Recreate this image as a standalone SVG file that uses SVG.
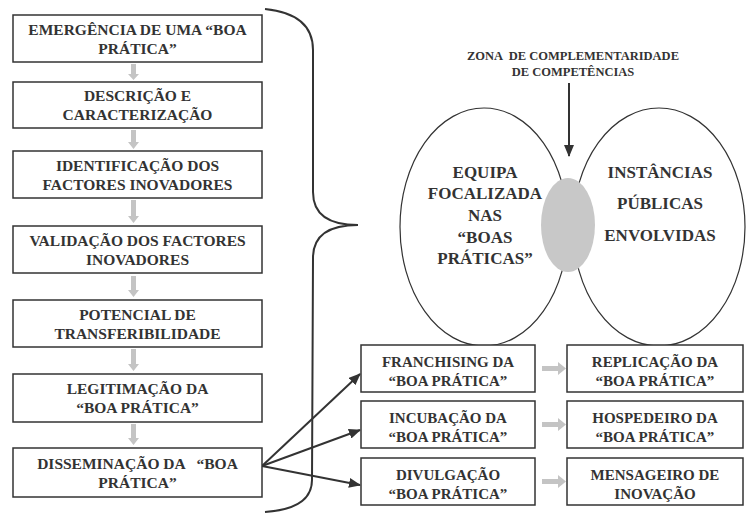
<svg xmlns="http://www.w3.org/2000/svg" width="747" height="514" viewBox="0 0 747 514">
<defs>
<style>
.box{fill:#fff;stroke:#333;stroke-width:1.5}
.t{font-family:"Liberation Serif","Times New Roman",serif;font-weight:bold;fill:#333;text-anchor:middle;white-space:pre}
.lb{font-size:15.5px}
.sb{font-size:15px}
.el{font-size:17px}
.zn{font-size:12.5px}
.ga{fill:#c4c4c4}
.ln{stroke:#333;stroke-width:2;fill:none}
</style>
<marker id="ah" markerWidth="12" markerHeight="10" refX="11" refY="5" orient="auto" markerUnits="userSpaceOnUse">
<path d="M0,0 L12,5 L0,10 z" fill="#333"/>
</marker>
</defs>
<rect width="747" height="514" fill="#fff"/>

<g id="connectors">
<path class="ln" d="M265,9 C295,12 313,25 313,50 L313,192 C313,215 330,225 358,225 C330,225 313,235 313,258 L312,480 C312,500 295,510 265,512"/>
<polygon class="ga" points="131,64 136,64 136,74 139,74 133.5,80 128,74 131,74"/>
<polygon class="ga" points="131,130 136,130 136,142 139,142 133.5,149 128,142 131,142"/>
<polygon class="ga" points="131,200 136,200 136,216 139,216 133.5,223 128,216 131,216"/>
<polygon class="ga" points="131,276 136,276 136,290 139,290 133.5,297 128,290 131,290"/>
<polygon class="ga" points="131,349 136,349 136,364 139,364 133.5,371 128,364 131,364"/>
<polygon class="ga" points="131,424 136,424 136,438 139,438 133.5,445 128,438 131,438"/>
<path class="ln" d="M262,466 L360,374" marker-end="url(#ah)"/>
<path class="ln" d="M262,466 L360,430" marker-end="url(#ah)"/>
<path class="ln" d="M262,466 L360,485" marker-end="url(#ah)"/>
<polygon class="ga" points="542,366 558,366 558,362 566,368.5 558,375 558,371 542,371"/>
<polygon class="ga" points="542,422 558,422 558,418 566,424.5 558,431 558,427 542,427"/>
<polygon class="ga" points="542,479 558,479 558,475 566,481.5 558,488 558,484 542,484"/>
<path class="ln" d="M569,83 L569,156" marker-end="url(#ah)"/>
</g>

<g id="n1"><rect class="box" x="13" y="15" width="249" height="47"/><text class="t lb" x="137.5" y="35">EMERGÊNCIA DE UMA “BOA</text><text class="t lb" x="137.5" y="54">PRÁTICA”</text></g>
<g id="n2"><rect class="box" x="13" y="82" width="249" height="46"/><text class="t lb" x="137.5" y="101">DESCRIÇÃO E</text><text class="t lb" x="137.5" y="120">CARACTERIZAÇÃO</text></g>
<g id="n3"><rect class="box" x="13" y="151" width="249" height="47"/><text class="t lb" x="137.5" y="171">IDENTIFICAÇÃO DOS</text><text class="t lb" x="137.5" y="190">FACTORES INOVADORES</text></g>
<g id="n4"><rect class="box" x="13" y="226" width="249" height="47"/><text class="t lb" x="137.5" y="246">VALIDAÇÃO DOS FACTORES</text><text class="t lb" x="137.5" y="265">INOVADORES</text></g>
<g id="n5"><rect class="box" x="13" y="300" width="249" height="47"/><text class="t lb" x="137.5" y="320">POTENCIAL DE</text><text class="t lb" x="137.5" y="339">TRANSFERIBILIDADE</text></g>
<g id="n6"><rect class="box" x="13" y="374" width="249" height="48"/><text class="t lb" x="137.5" y="394">LEGITIMAÇÃO DA</text><text class="t lb" x="137.5" y="413">“BOA PRÁTICA”</text></g>
<g id="n7"><rect class="box" x="13" y="448" width="249" height="49"/><text class="t lb" x="137.5" y="469">DISSEMINAÇÃO DA   “BOA</text><text class="t lb" x="137.5" y="488">PRÁTICA”</text></g>

<g id="zona"><text class="t zn" x="573" y="60">ZONA  DE COMPLEMENTARIDADE</text><text class="t zn" x="573" y="76">DE COMPETÊNCIAS</text></g>

<g id="equipa"><ellipse cx="484" cy="227" rx="84" ry="119" fill="none" stroke="#333" stroke-width="1.2"/>
<text class="t el" x="485" y="178">EQUIPA</text><text class="t el" x="485" y="199">FOCALIZADA</text><text class="t el" x="485" y="221">NAS</text><text class="t el" x="485" y="243">“BOAS</text><text class="t el" x="485" y="264">PRÁTICAS”</text></g>
<g id="instancias"><ellipse cx="659" cy="227" rx="86" ry="119" fill="none" stroke="#333" stroke-width="1.2"/>
<text class="t el" x="660" y="178">INSTÂNCIAS</text><text class="t el" x="660" y="209">PÚBLICAS</text><text class="t el" x="660" y="241">ENVOLVIDAS</text></g>
<g id="overlap"><ellipse cx="568" cy="225" rx="27" ry="47" fill="#c8c8c8"/></g>

<g id="f1"><rect class="box" x="361" y="345" width="174" height="47"/><text class="t sb" x="448" y="367">FRANCHISING DA</text><text class="t sb" x="448" y="386">“BOA PRÁTICA”</text></g>
<g id="f2"><rect class="box" x="361" y="401" width="174" height="47"/><text class="t sb" x="448" y="423">INCUBAÇÃO DA</text><text class="t sb" x="448" y="442">“BOA PRÁTICA”</text></g>
<g id="f3"><rect class="box" x="361" y="458" width="174" height="47"/><text class="t sb" x="448" y="480">DIVULGAÇÃO</text><text class="t sb" x="448" y="499">“BOA PRÁTICA”</text></g>
<g id="r1"><rect class="box" x="567" y="345" width="176" height="47"/><text class="t sb" x="655" y="367">REPLICAÇÃO DA</text><text class="t sb" x="655" y="386">“BOA PRÁTICA”</text></g>
<g id="r2"><rect class="box" x="567" y="401" width="176" height="47"/><text class="t sb" x="655" y="423">HOSPEDEIRO DA</text><text class="t sb" x="655" y="442">“BOA PRÁTICA”</text></g>
<g id="r3"><rect class="box" x="567" y="458" width="176" height="47"/><text class="t sb" x="655" y="480">MENSAGEIRO DE</text><text class="t sb" x="655" y="499">INOVAÇÃO</text></g>
</svg>
